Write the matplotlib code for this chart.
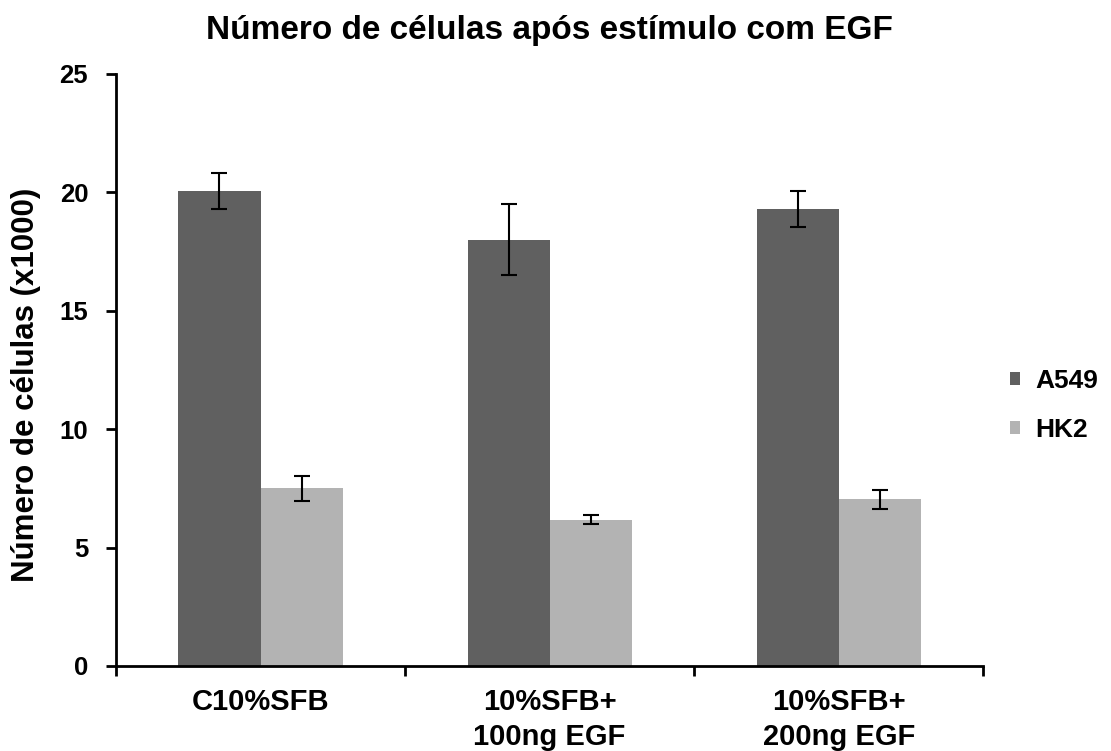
import matplotlib.pyplot as plt
import numpy as np

# cell counts (x1000) per condition
categories = ['C10%SFB', '10%SFB+\n100ng EGF', '10%SFB+\n200ng EGF']
a549 = [20.05, 18.0, 19.3]
a549_err = [0.77, 1.5, 0.75]
hk2 = [7.5, 6.17, 7.05]
hk2_err = [0.52, 0.19, 0.4]

plt.rcParams['font.family'] = ['Liberation Sans', 'DejaVu Sans']
plt.rcParams['font.weight'] = 'bold'

fig = plt.figure(figsize=(11.11, 7.51), dpi=100)
ax = fig.add_axes([0.1044, 0.1132, 0.7806, 0.7883])

x = np.arange(len(categories))
w = 0.284
err_kw = dict(ecolor='black', elinewidth=1.5, capsize=6, capthick=1.5)
ax.bar(x - w / 2, a549, w, yerr=a549_err, color='#606060', label='A549', error_kw=err_kw)
ax.bar(x + w / 2, hk2, w, yerr=hk2_err, color='#b3b3b3', label='HK2', error_kw=err_kw)

ax.set_xlim(-0.5, 2.5)
ax.set_ylim(0, 25)
ax.set_yticks(range(0, 26, 5))
ax.set_xticks([-0.5, 0.5, 1.5, 2.5])
ax.set_xticklabels([])
ax.set_xticks(x, minor=True)
ax.set_xticklabels(categories, minor=True, fontsize=21, fontweight='bold', linespacing=1.3)
ax.tick_params(axis='x', which='minor', length=0, pad=16)
ax.tick_params(axis='x', which='major', length=7, width=2, direction='out')
ax.tick_params(axis='y', length=7, width=2, direction='out', labelsize=18.5, pad=13)
for lbl in ax.get_yticklabels():
    lbl.set_fontweight('bold')

for s in ['top', 'right']:
    ax.spines[s].set_visible(False)
for s in ['left', 'bottom']:
    ax.spines[s].set_linewidth(2)

ax.set_ylabel('Número de células (x1000)', fontsize=22.5, fontweight='bold')
ax.yaxis.set_label_coords(-0.086, 0.475)
ax.set_title('Número de células após estímulo com EGF', fontsize=24, fontweight='bold', pad=25)

ax.legend(loc='center left', bbox_to_anchor=(1.004, 0.44), frameon=False,
          prop=dict(size=19, weight='bold'), handlelength=0.35, handleheight=0.35,
          handletextpad=0.6, labelspacing=0.95)

fig.savefig('out.png', dpi=100)
